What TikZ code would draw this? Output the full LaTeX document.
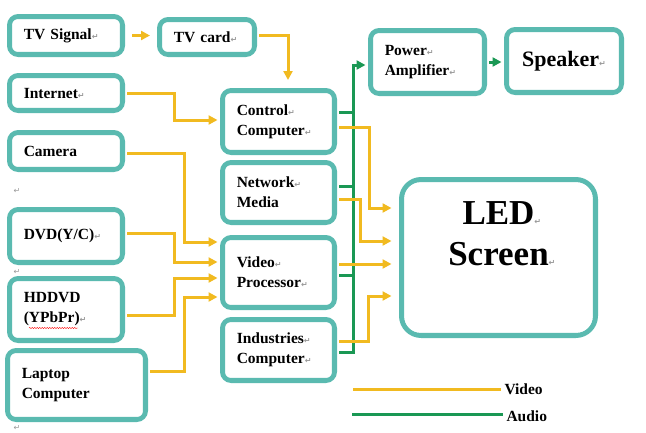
\documentclass[tikz,border=0pt]{standalone}
\usepackage{fontspec}
\setmainfont{Liberation Serif}
\newfontfamily\symfont{DejaVu Sans}
\usetikzlibrary{arrows.meta,decorations.pathmorphing}
\definecolor{boxcol}{RGB}{90,186,176}
\definecolor{vidcol}{RGB}{241,186,32}
\definecolor{audcol}{RGB}{26,152,84}
\newcommand\retmark{{\symfont\fontsize{8}{8}\selectfont\color{black!40}\symbol{"21B5}}}
\begin{document}
\begin{tikzpicture}[x=1pt,y=-1pt,>={Triangle[length=9pt,width=9pt]},
    unit box/.style={draw=boxcol,line width=4.5pt,rounded corners=9pt,fill=white,
      align=left,inner xsep=14.5pt,inner ysep=2pt,font=\bfseries\fontsize{15.5}{20}\selectfont},
    inner line/.style={draw=boxcol,line width=1.4pt,rounded corners=6pt},
    video/.style={draw=vidcol,line width=3pt,shorten <=2.25pt},
    audio/.style={draw=audcol,line width=3pt,shorten <=2.25pt},
    legend text/.style={font=\bfseries\fontsize{15.5}{20}\selectfont,anchor=west}]
  \useasboundingbox (0,0) rectangle (646,432);

  % sources
  \node[unit box,text width=84.5pt,minimum height=38.5pt] (tvsig) at (66,35.5) {TV Signal\retmark};
  \node[unit box,text width=66.5pt,minimum height=35.5pt] (tvcard) at (207,37) {TV card\retmark};
  \node[unit box,text width=84.5pt,minimum height=35.5pt] (inet) at (66,93) {Internet\retmark};
  \node[unit box,text width=84.5pt,minimum height=37.5pt] (cam) at (66,151) {Camera};
  \node[unit box,text width=84.5pt,minimum height=53.5pt] (dvd) at (66,236) {DVD(Y/C)\retmark};
  \node[unit box,text width=84.5pt,minimum height=62.5pt] (hddvd) at (66,309.5) {HDDVD\\(YPbPr)\retmark};
  \node[unit box,text width=109.5pt,minimum height=69.5pt] (laptop) at (76.5,385) {Laptop\\Computer};

  % processing
  \node[unit box,text width=83.5pt,minimum height=62.5pt] (ctrl) at (278.5,121.5) {Control\retmark\\Computer\retmark};
  \node[unit box,text width=83.5pt,minimum height=60.5pt] (net) at (278.5,192.5) {Network\retmark\\Media};
  \node[unit box,text width=83.5pt,minimum height=70.5pt] (vproc) at (278.5,272.5) {Video\retmark\\Processor\retmark};
  \node[unit box,text width=83.5pt,minimum height=61.5pt] (ind) at (278.5,350) {Industries\retmark\\Computer\retmark};

  % outputs
  \node[unit box,text width=85.5pt,minimum height=63.5pt] (pamp) at (427.5,62) {Power\retmark\\Amplifier\retmark};
  \node[unit box,align=center,minimum width=115.5pt,minimum height=63.5pt,
        font=\bfseries\fontsize{22}{24}\selectfont] (spk) at (564,61) {Speaker\retmark};
  \node[unit box,rounded corners=20pt,minimum width=194.5pt,minimum height=156.5pt] (led) at (498.5,257.5) {};
  \node[font=\bfseries\fontsize{35}{41}\selectfont,align=center,anchor=north] (ledtext)
    at ([yshift=-21pt]led.north) {LED\rlap{\retmark}\\Screen\rlap{\retmark}};

  \foreach \n in {tvsig,tvcard,inet,cam,dvd,hddvd,laptop,ctrl,net,vproc,ind,pamp,spk}
    \draw[inner line] ([shift={(4.4pt,-4.4pt)}]\n.north west) rectangle ([shift={(-4.4pt,4.4pt)}]\n.south east);
  \draw[inner line,rounded corners=17pt] ([shift={(4.4pt,-4.4pt)}]led.north west) rectangle ([shift={(-4.4pt,4.4pt)}]led.south east);

  % spell-check mark
  \draw[red,line width=0.4pt,decorate,decoration={snake,amplitude=0.6pt,segment length=2.5pt}] (29,328) -- (78,328);

  % stray paragraph marks
  \node (para1) at (17,191) {\retmark};
  \node (para2) at (17,272) {\retmark};
  \node (para3) at (17,428) {\retmark};

  % audio
  \draw[audio,->,shorten >=2.5pt] ([yshift=-2pt]ind.east) -- ++(16.5,0) |- ([yshift=-3pt]pamp.west);
  \draw[audio] ([yshift=9.5pt]ctrl.east) -- ++(16.5,0);
  \draw[audio] ([yshift=6.5pt]net.east) -- ++(16.5,0);
  \draw[audio] ([yshift=-2.5pt]vproc.east) -- ++(16.5,0);
  \draw[audio,->,shorten >=2.5pt] (pamp.east) -- (pamp.east -| spk.west);

  % video
  \draw[video,->,shorten <=7pt,shorten >=7pt] (tvsig.east) -- (tvsig.east -| tvcard.west);
  \draw[video,->,shorten >=8pt] ([yshift=2pt]tvcard.east) -| ([xshift=9.5pt]ctrl.north);
  \draw[video,->,shorten >=2.5pt] (inet.east) -- ++(49.5,0) |- ([yshift=1.5pt]ctrl.west);
  \draw[video,->,shorten >=2.5pt] ([yshift=-2pt]cam.east) -- ++(59.5,0) |- ([yshift=30.5pt]vproc.west);
  \draw[video,->,shorten >=2.5pt] ([yshift=3pt]dvd.east) -- ++(49.5,0) |- ([yshift=10.5pt]vproc.west);
  \draw[video,->,shorten >=2.5pt] ([yshift=-5.5pt]hddvd.east) -- ++(49.5,0) |- ([yshift=-5.5pt]vproc.west);
  \draw[video,->,shorten >=2.5pt] ([yshift=14pt]laptop.east) -- ++(36.5,0) |- ([yshift=-24.5pt]vproc.west);
  \draw[video,->,shorten >=7.5pt] ([yshift=-5.5pt]ctrl.east) -- ++(32.5,0) |- ([yshift=49.5pt]led.west);
  \draw[video,->,shorten >=7.5pt] ([yshift=-6.5pt]net.east) -- ++(23.5,0) |- ([yshift=16.5pt]led.west);
  \draw[video,->,shorten >=7.5pt] ([yshift=8.5pt]vproc.east) -- ([yshift=-6.5pt]led.west);
  \draw[video,->,shorten >=7.5pt] ([yshift=9pt]ind.east) -- ++(31.5,0) |- ([yshift=-38.5pt]led.west);

  % legend
  \coordinate (vidline) at (353,389);
  \node[legend text] (vidtext) at (501,389.5) {Video};
  \draw[video,shorten <=0pt] (vidline) -- (vidline -| vidtext.west);
  \coordinate (audline) at (352,414);
  \node[legend text] (audtext) at (503,416.5) {Audio};
  \draw[audio,shorten <=0pt] (audline) -- (audline -| audtext.west);
\end{tikzpicture}
\end{document}
